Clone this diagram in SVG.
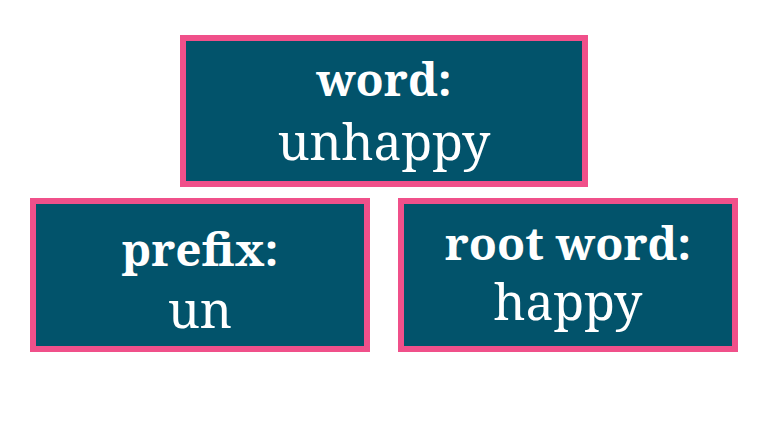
<svg xmlns="http://www.w3.org/2000/svg" width="768" height="432" viewBox="0 0 768 432">
<style>
.box{fill:#02536B;stroke:#F0508A;stroke-width:6}
.t{fill:#fff;font-family:"Noto Serif","DejaVu Serif","Liberation Serif",serif;text-anchor:middle}
.b{font-weight:bold;font-size:46px}
.r{font-size:50px}
</style>
<rect width="768" height="432" fill="#fff"/>
<g id="word">
<rect class="box" x="183" y="38" width="402" height="146"/>
<text class="t b" x="384" y="96">word:</text>
<text class="t r" x="384" y="160">unhappy</text>
</g>
<g id="prefix">
<rect class="box" x="33" y="201" width="334" height="148"/>
<text class="t b" x="200" y="266">prefix:</text>
<text class="t r" x="200" y="328">un</text>
</g>
<g id="root">
<rect class="box" x="401" y="201" width="334" height="148"/>
<text class="t b" x="568" y="260">root word:</text>
<text class="t r" x="568" y="320">happy</text>
</g>
<g id="connectors"></g>
</svg>
